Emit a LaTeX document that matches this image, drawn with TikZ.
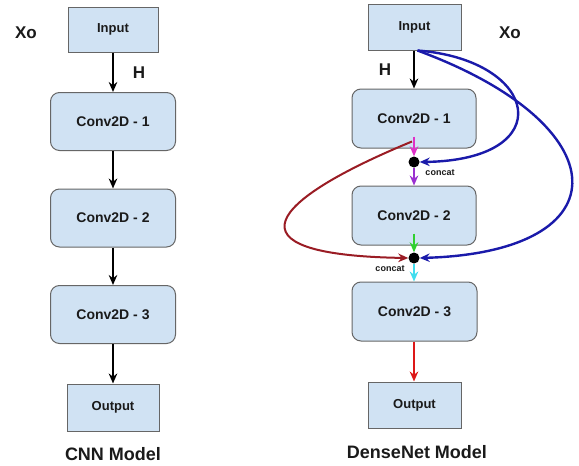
\documentclass[tikz,border=0pt]{standalone}
\usepackage{fontspec}
\setmainfont{Liberation Sans}
\usetikzlibrary{arrows.meta,calc}
\definecolor{boxfill}{HTML}{D0E2F3}
\definecolor{boxline}{HTML}{666666}
\definecolor{txt}{HTML}{1A1A1A}
\definecolor{cblue}{HTML}{1A1AAA}
\definecolor{cbrown}{HTML}{9A1C24}
\definecolor{cmag}{HTML}{E030C8}
\definecolor{cpurp}{HTML}{9A30D0}
\definecolor{cgreen}{HTML}{30D030}
\definecolor{ccyan}{HTML}{40DDEE}
\definecolor{cred}{HTML}{DD1818}
\tikzset{
  sqbox/.style={draw=boxline, fill=boxfill, line width=1pt, text=txt, font=\bfseries\fontsize{13}{15}\selectfont, minimum width=#1, inner sep=0pt},
  rbox/.style={draw=boxline, fill=boxfill, line width=1pt, rounded corners=9pt, text=txt, font=\bfseries\fontsize{14}{16}\selectfont, minimum width=125pt, minimum height=58pt, inner sep=0pt},
  lbl/.style={text=txt, font=\bfseries\fontsize{17}{19}\selectfont, inner sep=0pt},
  ttl/.style={text=txt, font=\bfseries\fontsize{18}{20}\selectfont, inner sep=0pt},
  small/.style={text=txt, font=\bfseries\fontsize{9}{10}\selectfont, inner sep=0pt},
  arr/.style={line width=2pt, -{Stealth[length=10pt,width=8.5pt]}},
  dot/.style={circle, fill=black, minimum size=11pt, inner sep=0pt},
}
\begin{document}
\begin{tikzpicture}[x=1pt,y=-1pt]
\useasboundingbox (0,0) rectangle (579,466);
\fill[white] (0,0) rectangle (579,466);
% CNN model
\node[sqbox=90pt, minimum height=45pt] (li) at (113,29.5) {Input};
\node[rbox] (l1) at (113,121.5) {Conv2D - 1};
\node[rbox] (l2) at (113,218) {Conv2D - 2};
\node[rbox] (l3) at (113,314.5) {Conv2D - 3};
\node[sqbox=92pt, minimum height=47pt] (lo) at (113,407.5) {Output};
\node[lbl] (lxo) at (26,33) {Xo};
\node[lbl] (lh) at (139,73) {H};
\node[ttl] (lt) at (113,454) {CNN Model};
\draw[arr] (li) -- (l1);
\draw[arr] (l1) -- (l2);
\draw[arr] (l2) -- (l3);
\draw[arr] (l3) -- (lo);
% DenseNet model
\node[sqbox=93pt, minimum height=46pt] (ri) at (414.5,27) {Input};
\node[rbox, minimum width=124pt, minimum height=59pt] (r1) at (414,118.5) {Conv2D - 1};
\node[rbox, minimum width=124pt, minimum height=59pt] (r2) at (414,215.5) {Conv2D - 2};
\node[rbox, minimum width=125pt, minimum height=59pt] (r3) at (414.5,311.5) {Conv2D - 3};
\node[sqbox=93pt, minimum height=46pt] (ro) at (414.5,405) {Output};
\node[dot] (d1) at (414,162) {};
\node[dot] (d2) at (414,258) {};
\node[lbl] (rxo) at (510,33) {Xo};
\node[lbl] (rh) at (385,70) {H};
\node[small] (c1) at (440,173) {concat};
\node[small] (c2) at (390,269) {concat};
\node[ttl] (rt) at (417,452) {DenseNet Model};
\coordinate (rb) at ($(ri.south)+(3,0)$);
\draw[arr] (ri.south -| d1) -- (r1.north -| d1);
\draw[arr, cblue, line width=2.4pt] (rb) .. controls (540,60) and (560,160) .. (d1.east);
\draw[arr, cblue, line width=2.4pt] (rb) .. controls (620,125) and (625,252) .. (d2.east);
\draw[arr, cbrown] ([xshift=-2pt,yshift=7pt]r1.south) .. controls (270,200) and (220,255) .. (d2.west);
\draw[arr, cmag] ([yshift=12pt]r1.south -| d1) -- (d1.north);
\draw[arr, cpurp] (d1.south) -- (r2.north -| d1);
\draw[arr, cgreen] ([yshift=12pt]r2.south -| d2) -- (d2.north);
\draw[arr, ccyan] (d2.south) -- (r3.north -| d2);
\draw[arr, cred] (r3.south -| d2) -- (ro.north -| d2);
\end{tikzpicture}
\end{document}
